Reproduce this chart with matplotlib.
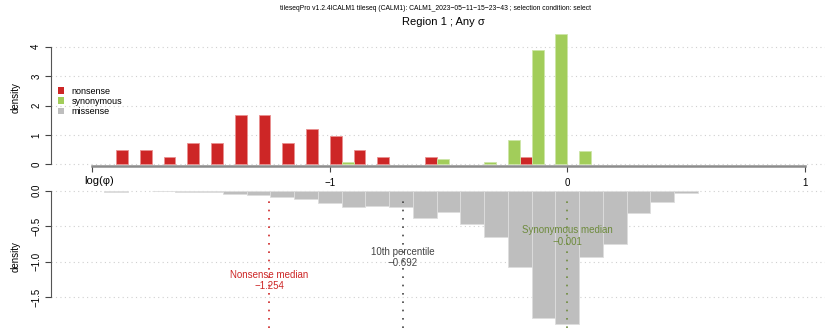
import matplotlib
matplotlib.use("Agg")
import matplotlib.pyplot as plt
from matplotlib.patches import Patch
import numpy as np

plt.rcParams["font.family"] = ["Liberation Sans", "DejaVu Sans"]

# bin start of each 0.1-wide bin (top panel), bin centre (bottom panel)
top_bins = [-1.9, -1.8, -1.7, -1.6, -1.5, -1.4, -1.3, -1.2, -1.1, -1.0,
            -0.9, -0.8, -0.7, -0.6, -0.5, -0.4, -0.3, -0.2, -0.1, 0.0]
nonsense = [0.476, 0.476, 0.238, 0.714, 0.714, 1.667, 1.667, 0.714, 1.190, 0.952,
            0.476, 0.238, 0.0, 0.238, 0.0, 0.0, 0.0, 0.238, 0.0, 0.0]
synonymous = [0.0, 0.0, 0.0, 0.0, 0.0, 0.0, 0.0, 0.0, 0.0, 0.08,
              0.0, 0.0, 0.0, 0.17, 0.0, 0.09, 0.826, 3.89, 4.43, 0.45]

mis_bins = [-1.9, -1.8, -1.7, -1.6, -1.5, -1.4, -1.3, -1.2, -1.1, -1.0, -0.9, -0.8, -0.7,
            -0.6, -0.5, -0.4, -0.3, -0.2, -0.1, 0.0, 0.1, 0.2, 0.3, 0.4, 0.5]
missense = [0.012, 0.0, 0.01, 0.012, 0.02, 0.05, 0.06, 0.094, 0.12, 0.178, 0.234, 0.216, 0.225,
            0.39, 0.30, 0.474, 0.65, 1.08, 1.79, 1.88, 0.94, 0.75, 0.31, 0.164, 0.037]

nonsense_median = -1.254
pct10 = -0.692
syn_median = -0.001

red = "#CD2626"
green = "#A2CD5A"
grey = "#BEBEBE"
olive = "#6E8B3D"

W, H = 825, 328
fig = plt.figure(figsize=(W / 100, H / 100), dpi=100)

xlim = ((51 - 567.3) / 237.5, (825 - 567.3) / 237.5)


def nonzero(xs, ys):
    pairs = [(x, y) for x, y in zip(xs, ys) if y > 0]
    return np.array([p[0] for p in pairs]), np.array([p[1] for p in pairs])


# ---- top panel: nonsense / synonymous ----
ax1 = fig.add_axes([51 / W, (H - 166) / H, (W - 51) / W, (166 - 30) / H])
nx, ny = nonzero(top_bins, nonsense)
sx, sy = nonzero(top_bins, synonymous)
ax1.bar(nx, ny, width=0.05, align="edge", color=red, edgecolor="#E99090", linewidth=0.6)
ax1.bar(sx + 0.05, sy, width=0.05, align="edge", color=green, edgecolor="#CDE6A8", linewidth=0.6)
ax1.set_xlim(xlim)
ax1.set_ylim((164.3 - 166) / 29.4, (164.3 - 30) / 29.4)
ax1.set_yticks([0, 1, 2, 3, 4])
ax1.set_yticklabels(["0", "1", "2", "3", "4"], rotation=90, va="center")
ax1.set_xticks([-2, -1, 0, 1])
ax1.set_xticklabels(["", "\u22121", "0", "1"])
for s in ["top", "right"]:
    ax1.spines[s].set_visible(False)
ax1.spines["left"].set_bounds(0, 4)
ax1.spines["left"].set_color("#555555")
ax1.spines["bottom"].set_bounds(-2, 1)
ax1.spines["bottom"].set_color("#8C8C8C")
ax1.spines["bottom"].set_linewidth(1.8)
ax1.tick_params(axis="both", length=4, width=0.8, color="#444444", labelsize=7, pad=3)
ax1.tick_params(axis="x", pad=5)
ax1.yaxis.grid(True, linestyle=(0, (1, 3)), color="#D0D0D0", linewidth=0.8)
ax1.set_axisbelow(True)
ax1.set_ylabel("density", fontsize=7, labelpad=8)
ax1.text(-1.97, -0.58, "log(\u03c6)", fontsize=8, ha="center", va="center")

leg = ax1.legend(handles=[Patch(facecolor=red, label="nonsense"),
                          Patch(facecolor=green, label="synonymous"),
                          Patch(facecolor=grey, label="missense")],
                 loc="upper left", bbox_to_anchor=(53 / W, (H - 82) / H),
                 bbox_transform=fig.transFigure, frameon=False, fontsize=6.5,
                 handlelength=0.75, handleheight=0.75, handletextpad=0.8, labelspacing=0.15,
                 borderpad=0)

# ---- bottom panel: missense (mirrored) ----
ax2 = fig.add_axes([51 / W, 0, (W - 51) / W, (328 - 186) / H])
mx, my = nonzero(mis_bins, missense)
ax2.bar(mx, -my, width=0.1, color=grey, edgecolor="#DDDDDD", linewidth=0.6)
ax2.set_xlim(xlim)
ylo, yhi = (190.7 - 328) / 70.9, (190.7 - 186) / 70.9
ax2.set_ylim(ylo, yhi)
ax2.set_yticks([0, -0.5, -1.0, -1.5])
ax2.set_yticklabels(["0.0", "\u22120.5", "\u22121.0", "\u22121.5"], rotation=90, va="center")
ax2.set_xticks([])
for s in ["top", "right", "bottom"]:
    ax2.spines[s].set_visible(False)
ax2.spines["left"].set_bounds(-1.5, 0)
ax2.spines["left"].set_color("#555555")
ax2.tick_params(axis="y", length=4, width=0.8, color="#444444", labelsize=7, pad=3)
ax2.yaxis.grid(True, linestyle=(0, (1, 3)), color="#D0D0D0", linewidth=0.8)
ax2.set_axisbelow(True)
ax2.set_ylabel("density", fontsize=7, labelpad=8)

dots = (0, (1, 4))
ax2.vlines(nonsense_median, ylo, -0.06, colors=red, linestyles=dots, linewidth=1.2)
ax2.vlines(pct10, ylo, -0.06, colors="#444444", linestyles=dots, linewidth=1.2)
ax2.vlines(syn_median, ylo, -0.06, colors=olive, linestyles=dots, linewidth=1.2)

ax2.text(nonsense_median, -1.264, "Nonsense median\n\u22121.254", color=red, fontsize=7,
         ha="center", va="center", linespacing=1.15)
ax2.text(pct10, -0.947, "10th percentile\n\u22120.692", color="#444444", fontsize=7,
         ha="center", va="center", linespacing=1.15)
ax2.text(syn_median, -0.64, "Synonymous median\n\u22120.001", color=olive, fontsize=7,
         ha="center", va="center", linespacing=1.15)

fig.text(436 / W, 1 - 8 / H,
         "tileseqPro v1.2.4lCALM1 tileseq (CALM1): CALM1_2023\u221205\u221211\u221215\u221223\u221243 ; selection condition: select",
         fontsize=4.9, ha="center", va="center")
fig.text(443 / W, 1 - 22 / H, "Region 1 ; Any \u03c3", fontsize=8, ha="center", va="center")

fig.savefig("out.png", dpi=100)
